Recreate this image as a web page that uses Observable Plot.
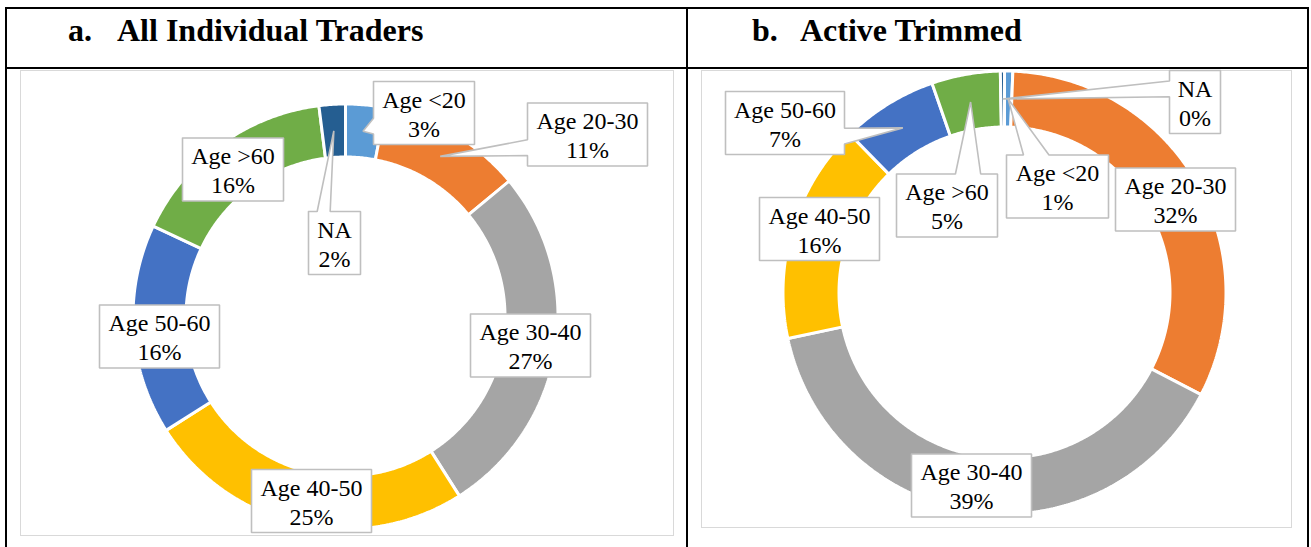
<!DOCTYPE html>
<html>
<head>
<meta charset="utf-8">
<script src="https://cdn.jsdelivr.net/npm/d3@7"></script>
<script src="https://cdn.jsdelivr.net/npm/@observablehq/plot@0.6"></script>
<style>
  body { margin: 0; background: #fff; }
  #page { position: relative; width: 1311px; height: 547px; overflow: hidden; background: #fff;
          font-family: "Liberation Serif", "Times New Roman", serif; color: #000; }
  .ln { position: absolute; background: #000; }
  .title { position: absolute; font-weight: bold; font-size: 32px; line-height: 32px; top: 14px; white-space: nowrap; }
  .frame { position: absolute; border: 1.5px solid #d9d9d9; box-sizing: border-box; }
  .chart { position: absolute; }
  .chart svg { display: block; overflow: visible; }
</style>
</head>
<body>
<div id="page"></div>
<script>
// ---------------- data ----------------
const categories = ["Age <20", "Age 20-30", "Age 30-40", "Age 40-50", "Age 50-60", "Age >60", "NA"];
const sliceColors = ["#5B9BD5", "#ED7D31", "#A5A5A5", "#FFC000", "#4472C4", "#70AD47", "#255E91"];
const allTraders = [3, 11, 27, 25, 16, 16, 2];            // percent
const activeTrimmed = [0.6, 32, 39, 16, 7, 5, 0.3];      // percent (labels round: 1%, 0%)
const panelLetters = ["a.", "b."];
const panelTitles = ["All Individual Traders", "Active Trimmed"];

// ---------------- layout (page pixels) ----------------
const panelLayouts = [
  { frame: { left: 20, top: 70, width: 654, height: 466 }, cx: 345, cy: 316, R: 211, r: 161,
    letterX: 68, titleX: 117,
    boxes: { // label box centre and width, page coords
      "Age <20": [423.5, 112.5, 101], "Age 20-30": [587, 134, 120], "Age 30-40": [530, 345, 120],
      "Age 40-50": [311, 500.5, 120], "Age 50-60": [159, 336, 120], "Age >60": [232.5, 169, 101], "NA": [334, 242.5, 52] } },
  { frame: { left: 701, top: 70, width: 591, height: 458 }, cx: 1004, cy: 292, R: 220, r: 167,
    letterX: 752, titleX: 800,
    boxes: {
      "Age <20": [1057, 186, 102], "Age 20-30": [1175, 199, 120], "Age 30-40": [971, 485, 120],
      "Age 40-50": [819, 228.5, 120], "Age 50-60": [784.5, 122.5, 119], "Age >60": [946.5, 205, 101], "NA": [1194.5, 101.5, 51] } }
];
const boxH = 63;

const page = document.getElementById("page");
function addDiv(cls, style, text) {
  const d = document.createElement("div");
  d.className = cls;
  Object.assign(d.style, style);
  if (text != null) d.textContent = text;
  page.appendChild(d);
  return d;
}

// table lines
addDiv("ln", { left: "5px", top: "7px", width: "1304px", height: "2px" });
addDiv("ln", { left: "5px", top: "67px", width: "1304px", height: "2px" });
addDiv("ln", { left: "5px", top: "7px", width: "2px", height: "560px" });
addDiv("ln", { left: "686px", top: "7px", width: "2px", height: "560px" });
addDiv("ln", { left: "1307px", top: "7px", width: "2px", height: "560px" });

function calloutPath(x0, x1, y0, y1, tx, ty) {
  // Excel wedgeRectCallout geometry (screen pixels)
  const w = x1 - x0, h = y1 - y0, hc = (x0 + x1) / 2, vc = (y0 + y1) / 2;
  if (tx >= x0 && tx <= x1 && ty >= y0 && ty <= y1) {
    return [[x0, y0], [x1, y0], [x1, y1], [x0, y1], [x0, y0]];
  }
  const dx = tx - hc, dy = ty - vc;
  const dq = dx * h / w;
  const dz = Math.abs(dy) - Math.abs(dq);
  const xa = x0 + w * (dx > 0 ? 7 : 2) / 12, xb = x0 + w * (dx > 0 ? 10 : 5) / 12;
  const ya = y0 + h * (dy > 0 ? 7 : 2) / 12, yb = y0 + h * (dy > 0 ? 10 : 5) / 12;
  const p = [[x0, y0]];
  if (dz > 0 && dy < 0) p.push([xa, y0], [tx, ty], [xb, y0]);
  p.push([x1, y0]);
  if (dz <= 0 && dx > 0) p.push([x1, ya], [tx, ty], [x1, yb]);
  p.push([x1, y1]);
  if (dz > 0 && dy > 0) p.push([xb, y1], [tx, ty], [xa, y1]);
  p.push([x0, y1]);
  if (dz <= 0 && dx < 0) p.push([x0, yb], [tx, ty], [x0, ya]);
  p.push([x0, y0]);
  return p;
}

[allTraders, activeTrimmed].forEach((values, pi) => {
  const L = panelLayouts[pi];
  addDiv("title", { left: L.letterX + "px" }, panelLetters[pi]);
  addDiv("title", { left: L.titleX + "px" }, panelTitles[pi]);
  addDiv("frame", { left: L.frame.left + "px", top: L.frame.top + "px", width: L.frame.width + "px", height: L.frame.height + "px" });

  const rows = categories.map((c, i) => ({ category: c, value: values[i] }));
  const arcs = d3.pie().sort(null).value(d => d.value)(rows);
  const inner = L.r / L.R;
  const sep = 1.5 / L.R; // half white separator, in radius units
  const outerK = 1 + sep, innerK = inner - sep;

  // ring segments as polygons in unit-radius space (y up, angle clockwise from 12 o'clock)
  const segPts = [];
  arcs.filter(a => a.data.value > 0).forEach(a => {
    const n = Math.max(2, Math.ceil((a.endAngle - a.startAngle) / (Math.PI / 360)));
    const pts = [];
    for (let k = 0; k <= n; k++) {
      const t = a.startAngle + (a.endAngle - a.startAngle) * k / n;
      pts.push([outerK * Math.sin(t), outerK * Math.cos(t)]);
    }
    for (let k = n; k >= 0; k--) {
      const t = a.startAngle + (a.endAngle - a.startAngle) * k / n;
      pts.push([innerK * Math.sin(t), innerK * Math.cos(t)]);
    }
    pts.push(pts[0]);
    pts.forEach(([x, y]) => segPts.push({ category: a.data.category, x, y }));
  });

  // callouts: tip at slice mid-angle, mid ring radius
  const toUnitX = px => (px - L.cx) / L.R;
  const toUnitY = py => (L.cy - py) / L.R;
  const calloutPts = [];
  const labelRows = [];
  arcs.forEach(a => {
    const cat = a.data.category;
    const [bx, by, bw] = L.boxes[cat];
    const mid = (a.startAngle + a.endAngle) / 2;
    const km = (1 + inner) / 2;
    const tx = L.cx + L.R * km * Math.sin(mid), ty = L.cy - L.R * km * Math.cos(mid);
    const path = calloutPath(bx - bw / 2, bx + bw / 2, by - boxH / 2, by + boxH / 2, tx, ty);
    path.forEach(([px, py]) => calloutPts.push({ category: cat, x: toUnitX(px), y: toUnitY(py) }));
    labelRows.push({ category: cat, x: toUnitX(bx), y: toUnitY(by), text: cat + "\n" + Math.round(a.data.value) + "%" });
  });

  const fx = L.cx - L.frame.left, fy = L.cy - L.frame.top;
  const chart = Plot.plot({
    width: L.frame.width,
    height: L.frame.height,
    margin: 0,
    style: { background: "transparent", overflow: "visible" },
    x: { domain: [-1, 1], range: [fx - L.R, fx + L.R], axis: null },
    y: { domain: [-1, 1], range: [fy + L.R, fy - L.R], axis: null },
    color: { domain: categories, range: sliceColors },
    marks: [
      Plot.line(segPts, { x: "x", y: "y", z: "category", fill: "category", stroke: "white", strokeWidth: 3, strokeLinejoin: "miter", curve: "linear" }),
      Plot.line(calloutPts, { x: "x", y: "y", z: "category", fill: "white", stroke: "#BFBFBF", strokeWidth: 1.6, strokeLinejoin: "miter", curve: "linear" }),
      Plot.text(labelRows, { x: "x", y: "y", text: "text", fontSize: 24, lineHeight: 1.2, fontFamily: "Liberation Serif", fill: "#000" })
    ]
  });
  const holder = addDiv("chart", { left: L.frame.left + "px", top: L.frame.top + "px", width: L.frame.width + "px", height: L.frame.height + "px" });
  holder.appendChild(chart);
});
</script>
</body>
</html>
